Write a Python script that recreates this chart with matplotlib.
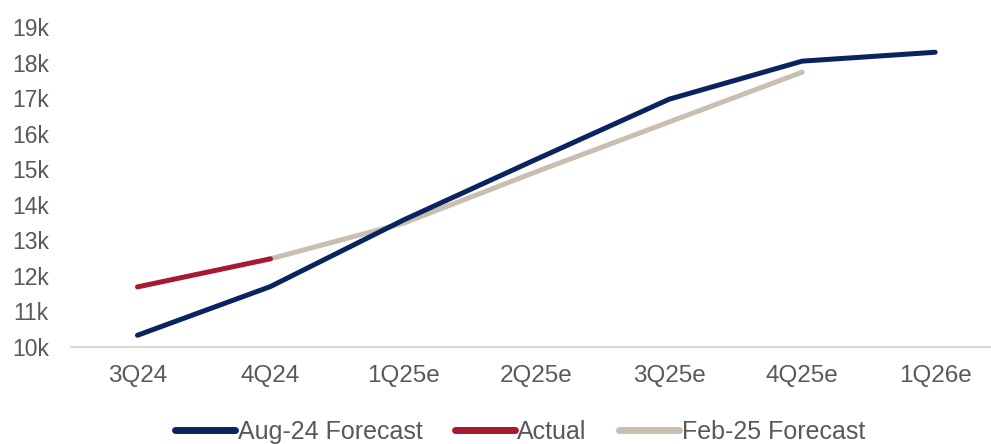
import matplotlib
matplotlib.use("Agg")
import matplotlib.pyplot as plt

# Quarterly values, k units dropped (plain numbers)
quarters = ["3Q24", "4Q24", "1Q25e", "2Q25e", "3Q25e", "4Q25e", "1Q26e"]
aug24_forecast = [10330, 11700, 13570, 15280, 16970, 18040, 18290]
actual = [11690, 12480]
feb25_forecast = [None, 12480, 13480, 14930, 16330, 17730, None]

NAVY = "#0b2361"
RED = "#a6192e"
BEIGE = "#c8bfb0"
GREY = "#595959"

plt.rcParams["font.family"] = ["Liberation Sans", "DejaVu Sans"]

fig = plt.figure(figsize=(9.91, 4.44), dpi=100)
ax = fig.add_axes([71 / 991, 97 / 444, 1 - 71 / 991, 320 / 444])

x = list(range(len(quarters)))
feb_x = [i for i, v in zip(x, feb25_forecast) if v is not None]
feb_y = [v for v in feb25_forecast if v is not None]

ax.plot(x, aug24_forecast, color=NAVY, lw=3.6, solid_capstyle="round",
        label="Aug-24 Forecast", zorder=3)
ax.plot(x[:len(actual)], actual, color=RED, lw=3.6, solid_capstyle="round",
        label="Actual", zorder=3)
ax.plot(feb_x, feb_y, color=BEIGE, lw=3.6, solid_capstyle="round",
        label="Feb-25 Forecast", zorder=2)

ax.set_xlim(-0.5, 6.42)
ax.set_ylim(10000, 19000)
ax.set_xticks(x)
ax.set_xticklabels(quarters)
ax.set_yticks(range(10000, 19001, 1000))
ax.set_yticklabels([f"{v // 1000}k" for v in range(10000, 19001, 1000)])

for side in ("top", "right", "left"):
    ax.spines[side].set_visible(False)
ax.spines["bottom"].set_color("#d9d9d9")
ax.spines["bottom"].set_linewidth(1.5)
ax.tick_params(axis="both", length=0, colors=GREY)
ax.tick_params(axis="y", labelsize=16.5, pad=16)
ax.tick_params(axis="x", labelsize=17.5, pad=13)

leg = fig.legend(loc="center", bbox_to_anchor=(520 / 991, 1 - 432 / 444),
                 ncol=3, frameon=False, fontsize=18, handlelength=2.4,
                 handletextpad=0.1, columnspacing=1.3, borderpad=0)
for t in leg.get_texts():
    t.set_color(GREY)
for h in leg.get_lines():
    h.set_linewidth(5)

fig.savefig("out.png", dpi=100)
